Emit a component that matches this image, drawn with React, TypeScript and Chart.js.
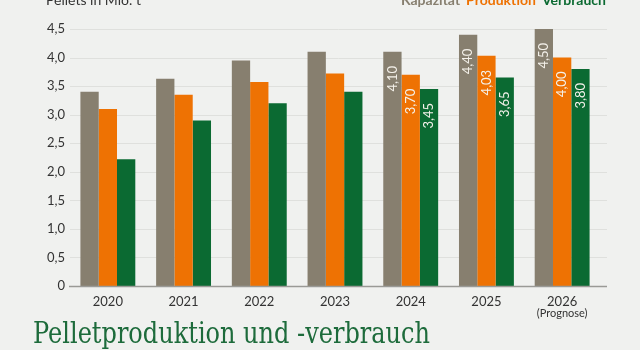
import React, { useEffect, useRef } from "react";
import { Chart, registerables } from "chart.js";

Chart.register(...registerables);

const categories = ["2020", "2021", "2022", "2023", "2024", "2025", "2026"];
const kapazitaet = [3.4, 3.63, 3.95, 4.1, 4.1, 4.4, 4.5];
const produktion = [3.1, 3.35, 3.57, 3.72, 3.7, 4.03, 4.0];
const verbrauch = [2.22, 2.9, 3.2, 3.4, 3.45, 3.65, 3.8];
const labelledIndices = [4, 5, 6];
const seriesNames = ["Kapazität", "Produktion", "Verbrauch"];
const seriesColors = ["#877f6f", "#ee7203", "#0b6a32"];
const yTicks = [0, 0.5, 1, 1.5, 2, 2.5, 3, 3.5, 4, 4.5];
const yUnit = "Pellets in Mio. t";
const forecastNote = "(Prognose)";
const titleText = "Pelletproduktion und -verbrauch";

const BG = "#f0f1ef";
const FONT = "Lato, 'Open Sans', sans-serif";

const fmt = (v: number, d: number) => (v === 0 ? "0" : v.toFixed(d).replace(".", ","));

const decorPlugin = {
  id: "decor",
  beforeDraw(chart: any) {
    const ctx = chart.ctx;
    ctx.save();
    ctx.fillStyle = BG;
    ctx.fillRect(0, 0, chart.width, chart.height);
    const y = chart.scales.y;
    ctx.strokeStyle = "#dfe0dd";
    ctx.lineWidth = 1;
    yTicks.forEach((t) => {
      if (t === 0) return;
      const py = Math.round(y.getPixelForValue(t)) + 0.5;
      ctx.beginPath();
      ctx.moveTo(70, py);
      ctx.lineTo(607, py);
      ctx.stroke();
    });
    ctx.restore();
  },
  afterDatasetsDraw(chart: any) {
    const ctx = chart.ctx;
    const y = chart.scales.y;
    const x = chart.scales.x;
    ctx.save();
    const p0 = Math.round(y.getPixelForValue(0)) + 0.5;
    ctx.strokeStyle = "#9a9a96";
    ctx.lineWidth = 1.5;
    ctx.beginPath();
    ctx.moveTo(69, p0);
    ctx.lineTo(607, p0);
    ctx.stroke();

    ctx.fillStyle = "#f4f1ea";
    ctx.font = `13px ${FONT}`;
    ctx.textAlign = "right";
    ctx.textBaseline = "middle";
    chart.data.datasets.forEach((ds: any, di: number) => {
      const meta = chart.getDatasetMeta(di);
      labelledIndices.forEach((i) => {
        const bar = meta.data[i];
        ctx.save();
        ctx.translate(bar.x, bar.y + 14);
        ctx.rotate(-Math.PI / 2);
        ctx.fillText(fmt(ds.data[i], 2), 0, 0);
        ctx.restore();
      });
    });

    ctx.fillStyle = "#333";
    ctx.font = `11px ${FONT}`;
    ctx.textAlign = "center";
    ctx.textBaseline = "middle";
    ctx.fillText(forecastNote, x.getPixelForValue(6), 313);

    ctx.textAlign = "left";
    ctx.textBaseline = "alphabetic";
    ctx.font = `14px ${FONT}`;
    ctx.fillStyle = "#333";
    ctx.fillText(yUnit, 46, 5);

    ctx.font = `bold 14px ${FONT}`;
    const gap = 6;
    const widths = seriesNames.map((n) => ctx.measureText(n).width);
    const total = widths.reduce((a, b) => a + b, 0) + gap * (seriesNames.length - 1);
    let lx = 606 - total;
    seriesNames.forEach((n, i) => {
      ctx.fillStyle = seriesColors[i];
      ctx.fillText(n, lx, 5);
      lx += widths[i] + gap;
    });

    ctx.font = `29px 'DejaVu Serif', serif`;
    ctx.fillStyle = "#1d6b3b";
    const tw = ctx.measureText(titleText).width;
    const target = 397;
    ctx.save();
    ctx.translate(33, 343);
    if (tw > target) ctx.scale(target / tw, 1);
    ctx.fillText(titleText, 0, 0);
    ctx.restore();

    ctx.restore();
  },
};

export default function App() {
  const ref = useRef<HTMLCanvasElement>(null);
  useEffect(() => {
    if (!ref.current) return;
    const chart = new Chart(ref.current, {
      type: "bar",
      data: {
        labels: categories,
        datasets: [kapazitaet, produktion, verbrauch].map((d, i) => ({
          label: seriesNames[i],
          data: d,
          backgroundColor: seriesColors[i],
          borderWidth: 0,
          barPercentage: 1,
          categoryPercentage: 0.725,
        })),
      },
      options: {
        responsive: false,
        animation: false,
        layout: { padding: { left: 8, right: 40, top: 29, bottom: 0 } },
        plugins: { legend: { display: false }, tooltip: { enabled: false } },
        scales: {
          x: {
            grid: { display: false, drawTicks: false },
            border: { display: false },
            ticks: { color: "#333", font: { family: FONT, size: 13 }, padding: 8 },
            afterFit: (s: any) => {
              s.height = 64;
            },
          },
          y: {
            min: 0,
            max: 4.5,
            grid: { display: false, drawTicks: false },
            border: { display: false },
            ticks: {
              stepSize: 0.5,
              color: "#333",
              font: { family: FONT, size: 13 },
              padding: 5,
              callback: (v: any) => fmt(Number(v), 1),
            },
            afterFit: (s: any) => {
              s.width = 62;
            },
          },
        },
      },
      plugins: [decorPlugin],
    });
    return () => chart.destroy();
  }, []);
  return (
    <div style={{ position: "fixed", left: 0, top: 0, width: 640, height: 350, background: BG }}>
      <canvas ref={ref} width={640} height={350} style={{ display: "block" }} />
    </div>
  );
}
